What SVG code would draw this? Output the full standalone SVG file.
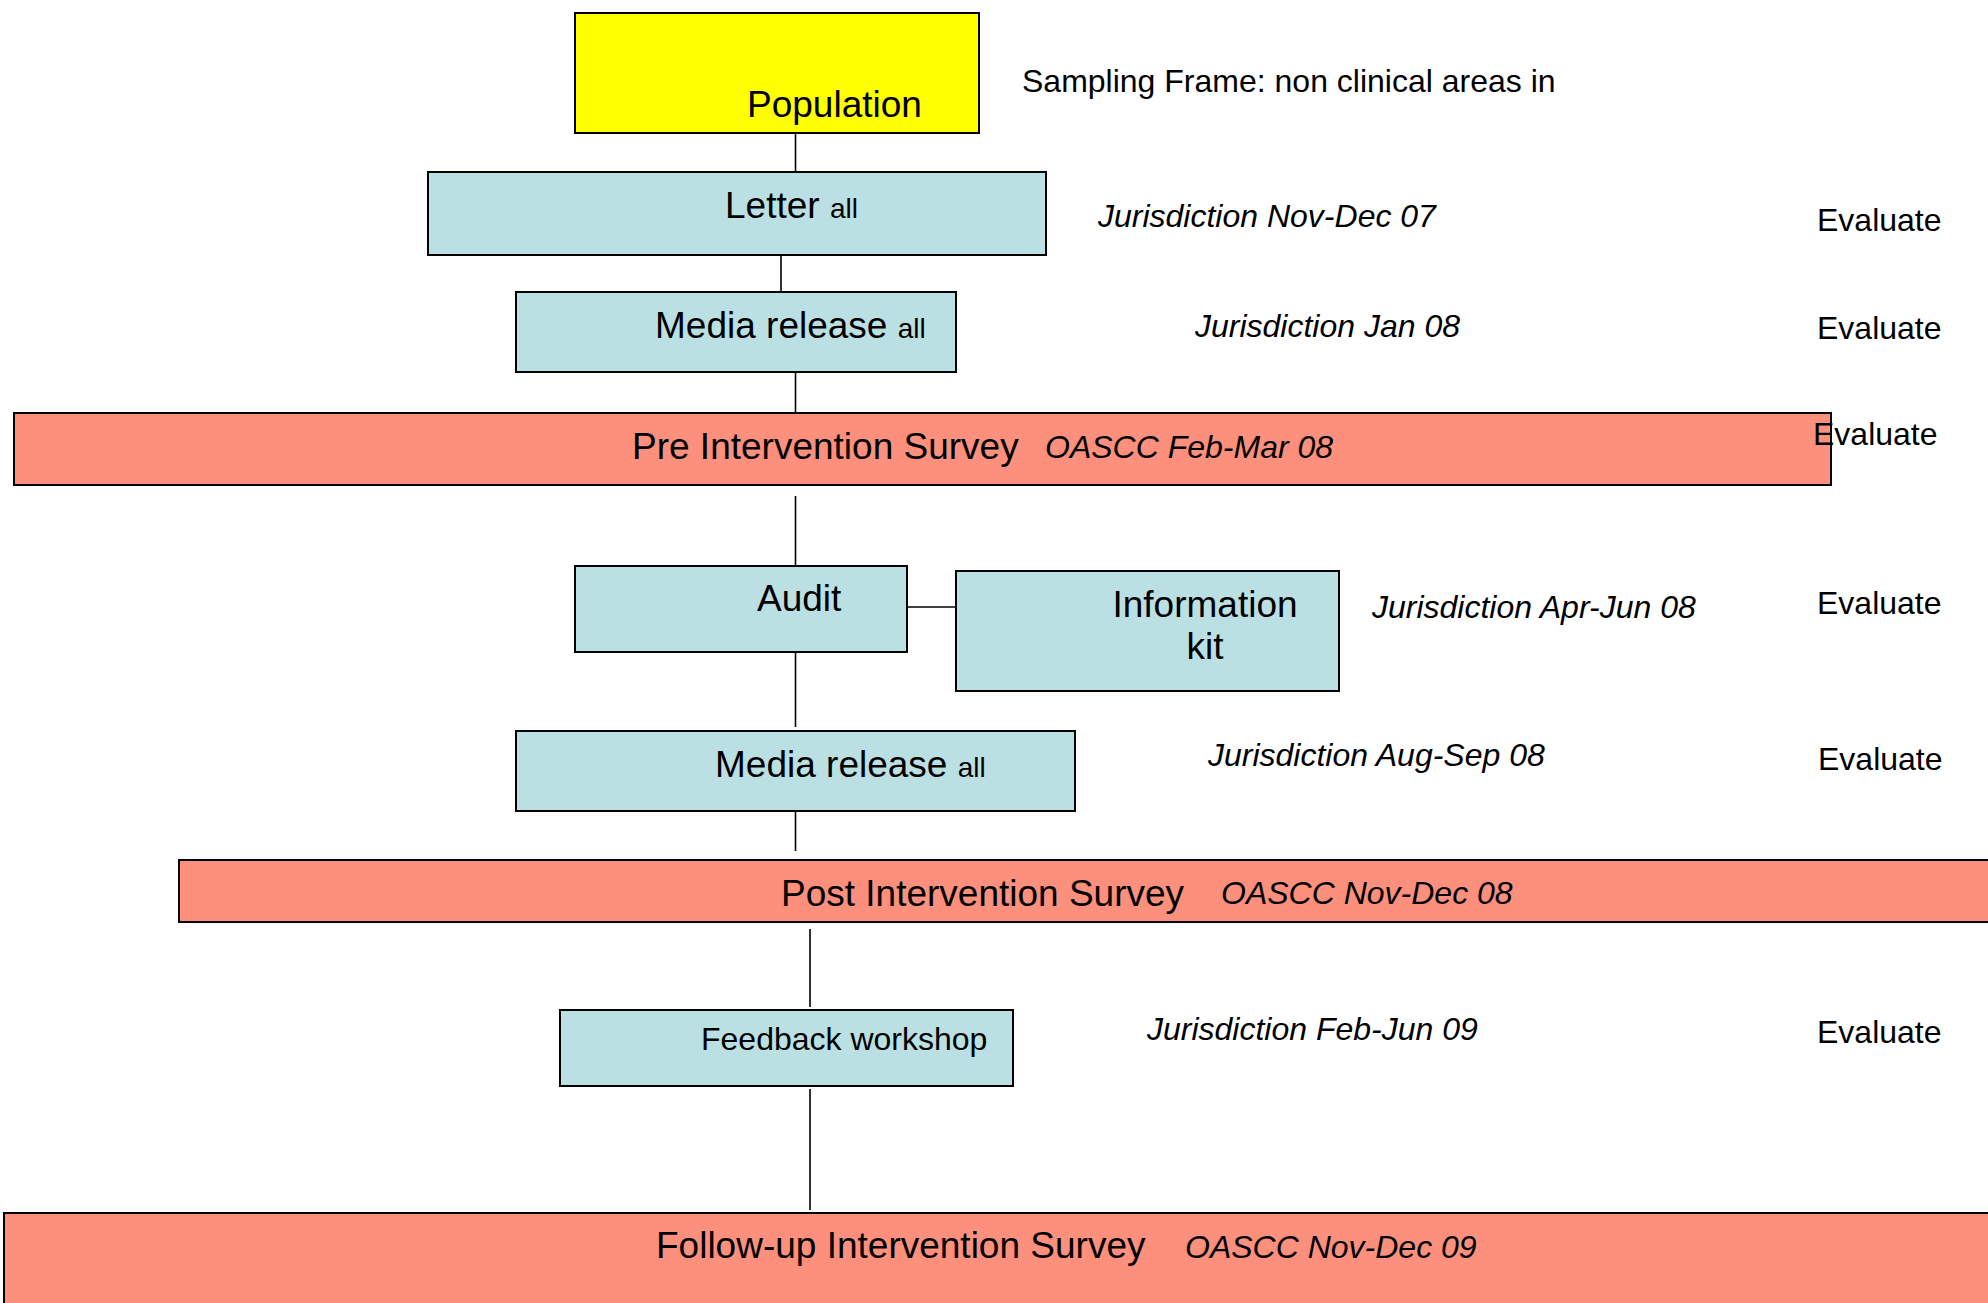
<svg xmlns="http://www.w3.org/2000/svg" width="1988" height="1303" viewBox="0 0 1988 1303">
<style>
.box{stroke:#000;stroke-width:2}
.blue{fill:#BBE0E3}
.red{fill:#FD8F7D}
.yel{fill:#FFFF00}
text{font-family:"Liberation Sans",Arial,sans-serif;fill:#000}
.big{font-size:37px}
.sm{font-size:28px}
.mid{font-size:32px}
.it{font-size:32px;font-style:italic}
.conn line{stroke:#000;stroke-width:1.6}
</style>
<rect width="1988" height="1303" fill="#fff"/>
<g class="conn" id="connectors">
<line x1="795.5" y1="133" x2="795.5" y2="172"/>
<line x1="781" y1="255" x2="781" y2="292"/>
<line x1="795.5" y1="365" x2="795.5" y2="413"/>
<line x1="795.5" y1="496" x2="795.5" y2="566"/>
<line x1="795.5" y1="651" x2="795.5" y2="727"/>
<line x1="907" y1="607" x2="955" y2="607"/>
<line x1="795.5" y1="810" x2="795.5" y2="851"/>
<line x1="810" y1="929" x2="810" y2="1007"/>
<line x1="810" y1="1089" x2="810" y2="1210"/>
</g>
<g id="population">
<rect class="box yel" x="575" y="13" width="404" height="120"/>
<text class="big" x="747" y="117">Population</text>
</g>
<text class="mid" x="1022" y="92">Sampling Frame: non clinical areas in</text>
<g id="letter">
<rect class="box blue" x="428" y="172" width="618" height="83"/>
<text x="725" y="218"><tspan class="big">Letter </tspan><tspan class="sm">all</tspan></text>
</g>
<text class="it" x="1098" y="227">Jurisdiction Nov-Dec 07</text>
<text class="mid" x="1817" y="231">Evaluate</text>
<g id="media1">
<rect class="box blue" x="516" y="292" width="440" height="80"/>
<text x="655" y="338"><tspan class="big">Media release </tspan><tspan class="sm">all</tspan></text>
</g>
<text class="it" x="1195" y="337">Jurisdiction Jan 08</text>
<text class="mid" x="1817" y="339">Evaluate</text>
<g id="pre">
<rect class="box red" x="14" y="413" width="1817" height="72"/>
<text class="big" x="632" y="459">Pre Intervention Survey</text>
<text class="it" x="1045" y="458">OASCC Feb-Mar 08</text>
</g>
<text class="mid" x="1813" y="445">Evaluate</text>
<g id="audit">
<rect class="box blue" x="575" y="566" width="332" height="86"/>
<text class="big" x="757" y="611">Audit</text>
</g>
<g id="infokit">
<rect class="box blue" x="956" y="571" width="383" height="120"/>
<text class="big" x="1205" y="617" text-anchor="middle">Information</text>
<text class="big" x="1205" y="659" text-anchor="middle">kit</text>
</g>
<text class="it" x="1372" y="618">Jurisdiction Apr-Jun 08</text>
<text class="mid" x="1817" y="614">Evaluate</text>
<g id="media2">
<rect class="box blue" x="516" y="731" width="559" height="80"/>
<text x="715" y="777"><tspan class="big">Media release </tspan><tspan class="sm">all</tspan></text>
</g>
<text class="it" x="1208" y="766">Jurisdiction Aug-Sep 08</text>
<text class="mid" x="1818" y="770">Evaluate</text>
<g id="post">
<rect class="box red" x="179" y="860" width="1830" height="62"/>
<text class="big" x="781" y="906">Post Intervention Survey</text>
<text class="it" x="1221" y="904">OASCC Nov-Dec 08</text>
</g>
<g id="feedback">
<rect class="box blue" x="560" y="1010" width="453" height="76"/>
<text class="mid" x="701" y="1050">Feedback workshop</text>
</g>
<text class="it" x="1147" y="1040">Jurisdiction Feb-Jun 09</text>
<text class="mid" x="1817" y="1043">Evaluate</text>
<g id="followup">
<rect class="box red" x="4" y="1213" width="2010" height="110"/>
<text class="big" x="656" y="1258">Follow-up Intervention Survey</text>
<text class="it" x="1185" y="1258">OASCC Nov-Dec 09</text>
</g>
</svg>
